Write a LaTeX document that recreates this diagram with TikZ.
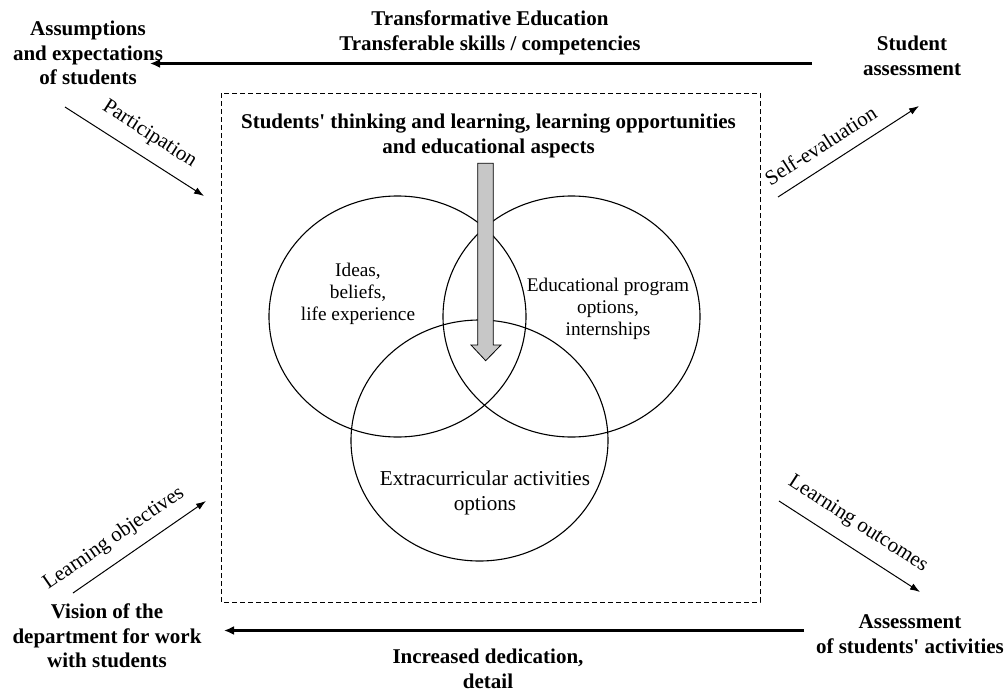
\documentclass[tikz,border=0pt]{standalone}
\usepackage{fontspec}
\setmainfont{Liberation Serif}
\usetikzlibrary{arrows.meta,shapes.geometric}

\begin{document}
\begin{tikzpicture}[x=1pt,y=-1pt,
  boldtext/.style={font=\fontsize{21}{24.5}\selectfont\bfseries, align=center, inner sep=0pt},
  circtext/.style={font=\fontsize{19.3}{22}\selectfont, align=center, inner sep=0pt},
  lowtext/.style={font=\fontsize{21.2}{25}\selectfont, align=center, inner sep=0pt},
  slanttext/.style={font=\fontsize{21}{24}\selectfont, inner sep=0pt, text depth=0pt, sloped, above=#1},
  flowarrow/.style={line width=2.4pt, -{Latex[length=10pt,width=9pt]}},
  sidearrow/.style={line width=1pt, -{Latex[length=10pt,width=7pt]}},
  setcircle/.style={draw, line width=1.1pt, ellipse, inner sep=0pt, minimum width=257pt, minimum height=241pt},
]
\useasboundingbox (0,0) rectangle (1005,691);

% frame around the learning sets
\draw[dash pattern=on 5pt off 3pt, line width=0.9pt] (221,93) rectangle (760,602);

% corner statements
\node[boldtext] (assume) at (88,53) {Assumptions\\and expectations\\of students};
\node[boldtext] (sassess) at (912,56) {Student\\assessment};
\node[boldtext] (vision) at (107,636) {Vision of the\\department for work\\with students};
\node[boldtext] (aassess) at (910,634) {Assessment\\of students\textquotesingle{} activities};

% horizontal flows and their captions
\node[boldtext] (transform) at (490,33) {Transformative Education\\Transferable skills / competencies};
\node[boldtext] (dedic) at (488,669) {Increased dedication,\\detail};
\coordinate (topR) at (812,63.5);
\coordinate (topL) at (150,63.5);
\coordinate (botR) at (804,630.5);
\coordinate (botL) at (224,630.5);
\draw[flowarrow] (topR) -- (topL);
\draw[flowarrow] (botR) -- (botL);

% diagonal links
\coordinate (partA) at (65,107);
\coordinate (partB) at (204,196);
\coordinate (selfA) at (778,197);
\coordinate (selfB) at (919,106);
\coordinate (objA) at (73,593);
\coordinate (objB) at (206,501);
\coordinate (outA) at (779,501);
\coordinate (outB) at (920,592);
\draw[sidearrow] (partA) -- node[slanttext=17pt, pos=0.52] (lpart) {Participation} (partB);
\draw[sidearrow] (selfA) -- node[slanttext=12.5pt, pos=0.38] (lself) {Self-evaluation} (selfB);
\draw[sidearrow] (objA) -- node[slanttext=16pt, pos=0.40] (lobj) {Learning objectives} (objB);
\draw[sidearrow] (outA) -- node[slanttext=18pt, pos=0.47] (lout) {Learning outcomes} (outB);

% heading inside the frame
\node[boldtext] (heading) at (488.5,136) {Students\textquotesingle{} thinking and learning, learning opportunities\\and educational aspects};

% three overlapping sets
\node[setcircle] (cideas) at (397.5,316.5) {};
\node[setcircle] (cprog) at (571.5,316.5) {};
\node[setcircle] (cextra) at (479.5,440.5) {};
\node[circtext] (tideas) at (358,294) {Ideas,\\beliefs,\\life experience};
\node[circtext] (tprog) at (608,309) {Educational program\\options,\\internships};
\node[lowtext] (textra) at (485,493) {Extracurricular activities\\options};

% grey block arrow pointing into the overlap
\draw[line width=0.8pt, fill=black!22]
  (477.7,163.3) -- (493.3,163.3) -- (493.3,345) -- (501,345) -- (485.7,360.7)
  -- (471,345) -- (477.7,345) -- cycle;
\end{tikzpicture}
\end{document}
